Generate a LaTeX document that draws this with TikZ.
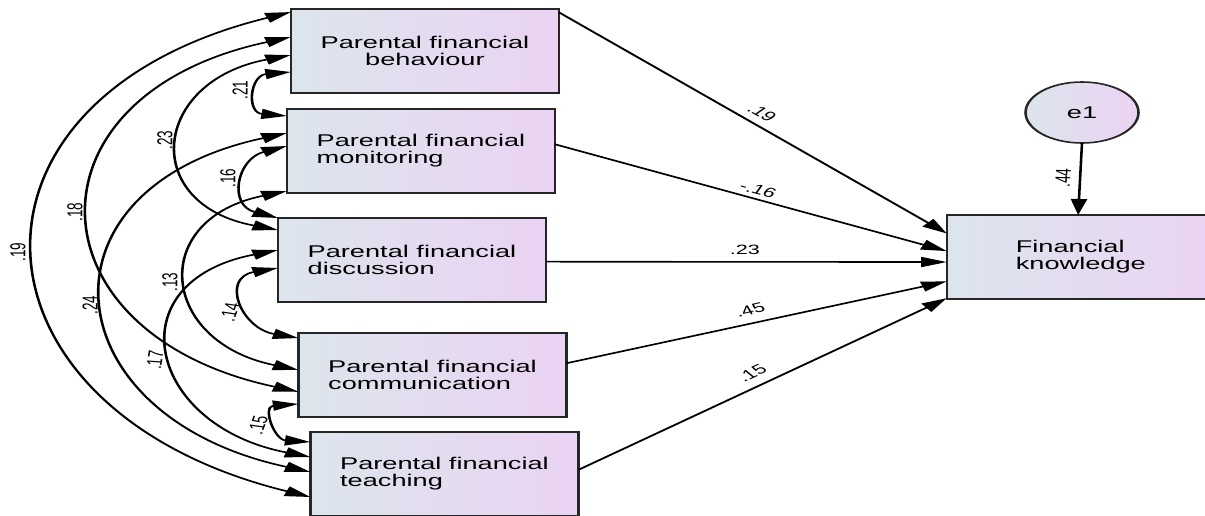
\documentclass[tikz,border=0pt]{standalone}
\usepackage{fontspec}
\setmainfont{Liberation Sans}
\usetikzlibrary{arrows.meta,calc,shapes.geometric}
\definecolor{boxL}{RGB}{220,229,236}
\definecolor{boxR}{RGB}{235,211,243}
\tikzset{
  var/.style={draw=black!85, line width=1.6pt, minimum width=167.5pt, minimum height=84pt,
    inner sep=0pt, outer sep=0pt, left color=boxL, right color=boxR,
    font=\fontsize{17}{17}\selectfont},
  errv/.style={draw=black!85, line width=1.6pt, ellipse, minimum width=70.6pt, minimum height=61pt, inner sep=0pt,
    outer sep=0pt, left color=boxL, right color=boxR, font=\fontsize{17}{17}\selectfont},
  cov/.style={line width=1.6pt, arrows={Triangle[length=16pt,width=10pt]-Triangle[length=16pt,width=10pt]}},
  regpath/.style={line width=1.6pt, arrows={-Triangle[length=16pt,width=10pt]}},
  lab/.style={inner sep=0pt, font=\fontsize{13.5}{14}\selectfont}
}
\begin{document}
\begin{tikzpicture}[x=1pt, y=-1pt]
\useasboundingbox (0,0) rectangle (1205,515);
\begin{scope}[transform canvas={xscale=1.6}]
% boxes
\node[var, align=center] (b1) at (265.6,51) {Parental financial\\behaviour};
\node[var, align=left] (b2) at (263.1,151) {Parental financial\\monitoring};
\node[var, align=left] (b3) at (257.5,260) {Parental financial\\discussion};
\node[var, align=left] (b4) at (270.3,375) {Parental financial\\communication};
\node[var, align=left] (b5) at (277.8,474) {Parental financial\\teaching};
\node[var, align=left] (fk) at (675.5,257) {Financial\\knowledge};
\node[errv] (e1) at (676.25,112.5) {e1};
% covariances
\draw[cov] ($(b1.north west)!0.036!(b1.south west)$) .. controls +(-220.5,86.2) and +(-220.5,-86.2) .. ($(b5.north west)!0.774!(b5.south west)$);
\draw[cov] ($(b1.north west)!0.333!(b1.south west)$) .. controls +(-169.9,57.6) and +(-169.9,-57.6) .. ($(b4.north west)!0.70!(b4.south west)$);
\draw[cov] ($(b1.north west)!0.548!(b1.south west)$) .. controls +(-86.9,25.8) and +(-86.9,-25.8) .. ($(b3.north west)!0.143!(b3.south west)$);
\draw[cov] ($(b1.north west)!0.75!(b1.south west)$) .. controls +(-25.6,3.3) and +(-25.6,-3.3) .. ($(b2.north west)!0.083!(b2.south west)$);
\draw[cov] ($(b2.north west)!0.286!(b2.south west)$) .. controls +(-161.8,55.2) and +(-161.8,-55.2) .. ($(b5.north west)!0.476!(b5.south west)$);
\draw[cov] ($(b2.north west)!0.44!(b2.south west)$) .. controls +(-31.4,12.8) and +(-31.4,-12.8) .. (b3.north west);
\draw[cov] ($(b2.north west)!0.976!(b2.south west)$) .. controls +(-87.0,27.9) and +(-87.0,-27.9) .. ($(b4.north west)!0.44!(b4.south west)$);
\draw[cov] ($(b3.north west)!0.595!(b3.south west)$) .. controls +(-36.0,9.6) and +(-36.0,-9.6) .. ($(b4.north west)!0.06!(b4.south west)$);
\draw[cov] ($(b3.north west)!0.381!(b3.south west)$) .. controls +(-102.2,31.2) and +(-102.2,-31.2) .. ($(b5.north west)!0.298!(b5.south west)$);
\draw[cov] ($(b4.north west)!0.845!(b4.south west)$) .. controls +(-22.8,2.3) and +(-22.8,-2.3) .. ($(b5.north west)!0.119!(b5.south west)$);
% regression paths
\draw[regpath] ($(b1.north east)!0.04!(b1.south east)$) -- ($(fk.north west)!0.22!(fk.south west)$);
\draw[regpath] ($(b2.north east)!0.42!(b2.south east)$) -- ($(fk.north west)!0.43!(fk.south west)$);
\draw[regpath] ($(b3.north east)!0.52!(b3.south east)$) -- ($(fk.north west)!0.56!(fk.south west)$);
\draw[regpath] ($(b4.north east)!0.36!(b4.south east)$) -- ($(fk.north west)!0.79!(fk.south west)$);
\draw[regpath] ($(b5.north east)!0.45!(b5.south east)$) -- ($(fk.north west)!0.99!(fk.south west)$);
\draw[regpath] (e1.south) -- ($(fk.north west)!0.49!(fk.north east)$);
% labels
\node[lab, rotate=90] (l19) at (11.25,252) {.19};
\node[lab, rotate=90] (l18) at (46.9,212) {.18};
\node[lab, rotate=90] (l23) at (103.1,140) {.23};
\node[lab, rotate=90] (l21) at (150,90) {.21};
\node[lab, rotate=90] (l16) at (142.5,178) {.16};
\node[lab, rotate=90] (l24) at (56.25,305) {.24};
\node[lab, rotate=90] (l13) at (106.25,282) {.13};
\node[lab, rotate=77] (l14) at (143.75,312) {.14};
\node[lab, rotate=84] (l17) at (96.9,360) {.17};
\node[lab, rotate=77] (l15) at (161.25,425) {.15};
\node[lab, rotate=-42] (p19) at (476.25,113) {.19};
\node[lab, rotate=-24] (p16) at (473.75,190) {-.16};
\node[lab] (p23) at (465.6,250) {.23};
\node[lab, rotate=20] (p45) at (468.75,310) {.45};
\node[lab, rotate=37] (p15) at (470,373) {.15};
\node[lab, rotate=88] (p44) at (664.4,178) {.44};
\end{scope}
\end{tikzpicture}
\end{document}
